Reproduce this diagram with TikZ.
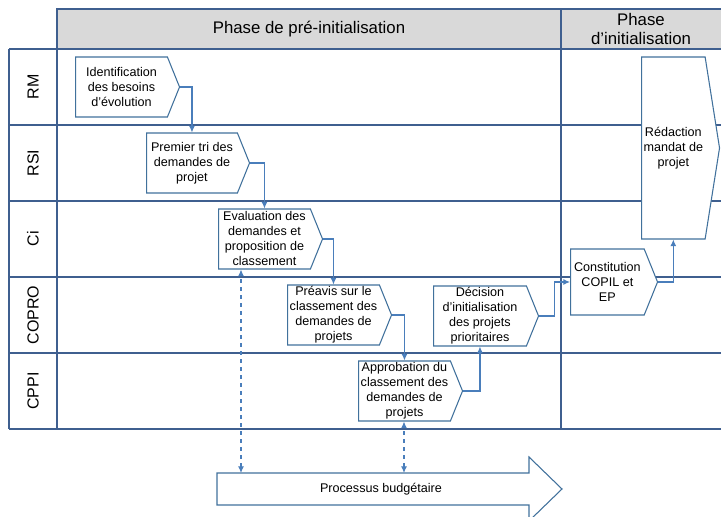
\documentclass[tikz,border=0pt]{standalone}
\usepackage{fontspec}
\setmainfont{Liberation Sans}
\usetikzlibrary{shapes.symbols,arrows.meta,calc}
\definecolor{gridline}{HTML}{3F5F8F}
\definecolor{boxline}{HTML}{41719C}
\definecolor{flowblue}{HTML}{4A7EBB}
\definecolor{headfill}{HTML}{D9D9D9}
\tikzset{
  lane/.style={draw=gridline,line width=1pt},
  lanelabel/.style={rotate=90,font=\fontsize{12}{14}\selectfont},
  phase/.style={align=center,font=\fontsize{12.6}{14.5}\selectfont},
  task/.style args={#1,#2}{
  shape=signal,
  signal to=east,
  signal from=nowhere,
  signal pointer angle=136,
  draw=boxline,
  line width=0.8pt,
  fill=white,
  align=center,
  inner sep=0pt,
  anchor=west,
  font=\fontsize{9.45}{11.25}\selectfont,
  minimum width=#1*0.75pt,
  minimum height=#2*0.75pt,
  },
  flow/.style={draw=flowblue,line width=0.8pt,-{Latex[length=5pt,width=4.5pt]}},
  budgetlink/.style={flow,dashed,{Latex[length=5pt,width=4.5pt]}-{Latex[length=5pt,width=4.5pt]}},
  budgetarrow/.style={draw=boxline,line width=0.8pt,fill=white},
  budgettext/.style={font=\fontsize{9.45}{11.25}\selectfont}
}
\begin{document}
\begin{tikzpicture}[x=0.75pt,y=0.75pt]
  \useasboundingbox (0,0) rectangle (721,517);

  % table
  \filldraw[lane,fill=headfill] (57,468) rectangle (730,508);
  \foreach \y in {468,392,316,240,164,88}
    \draw[lane] (9,\y) -- (730,\y);
  \draw[lane] (9,468) -- (9,88);
  \draw[lane] (57,508) -- (57,88);
  \draw[lane] (561,508) -- (561,88);

  \node[phase] (pre) at (309,488) {Phase de pré-initialisation};
  \node[phase] (init) at (641,488) {Phase\\d’initialisation};

  \foreach \y/\name/\lab in {430/rm/RM,354/rsi/RSI,278/ci/Ci,202/copro/COPRO,126/cppi/CPPI}
    \node[lanelabel] (\name) at (33,\y) {\lab};

  % tasks
  \node[task={104,60}] (ident) at (75,430) {Identification\\des besoins\\d’évolution};
  \node[task={103,60}] (tri) at (146,354) {Premier tri des\\demandes de\\projet};
  \node[task={104,60}] (eval) at (218,278) {Evaluation des\\demandes et\\proposition de\\classement};
  \node[task={104,60}] (preavis) at (287,202) {Préavis sur le\\classement des\\demandes de\\projets};
  \node[task={104,60}] (approb) at (358,126) {Approbation du\\classement des\\demandes de\\projets};
  \node[task={105,60}] (decision) at (433,201) {Décision\\d’initialisation\\des projets\\prioritaires};
  \node[task={87,66}] (copil) at (570,235) {Constitution\\COPIL et\\EP};
  \node[task={78,182},signal pointer angle=162] (mandat) at (641,369) {Rédaction\\mandat de\\projet};

  % budget process
  \draw[budgetarrow] (217,44) -- (529,44) -- (529,60) -- (562,28)
    -- (529,-4) -- (529,12) -- (217,12) -- cycle;
  \node[budgettext] (budget) at (381,28) {Processus budgétaire};

  % links
  \draw[flow] (ident.east) -| (tri.north);
  \draw[flow] (tri.east) -| (eval.north);
  \draw[flow] (eval.east) -| (preavis.north);
  \draw[flow] (preavis.east) -| (approb.north);
  \draw[flow] (approb.east) -| (decision.south);
  \draw[flow] (decision.east) -| ($(decision.east)!0.5!(copil.west)$) |- (copil.west);
  \draw[flow] (copil.east) -| (mandat.south);

  \coordinate (b1) at (241,44);
  \coordinate (b2) at (404,44);
  \draw[budgetlink] (b1) -- (b1 |- eval.south);
  \draw[budgetlink] (b2) -- (b2 |- approb.south);
\end{tikzpicture}
\end{document}
